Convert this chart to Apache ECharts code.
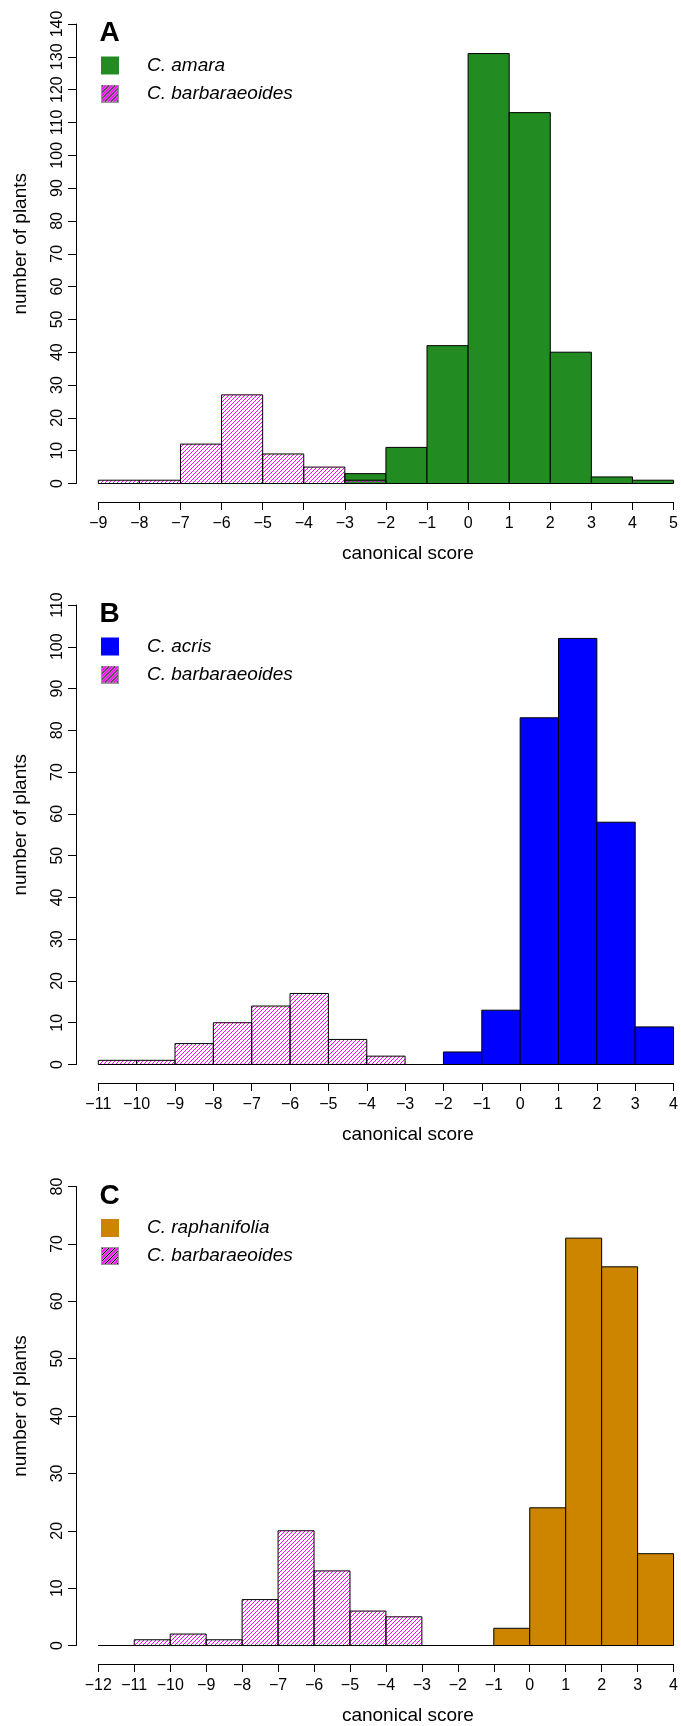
<!DOCTYPE html>
<html>
<head>
<meta charset="utf-8">
<title>canonical score histograms</title>
<script src="https://cdn.jsdelivr.net/npm/echarts@6/dist/echarts.min.js"></script>
<style>
  html, body { margin: 0; padding: 0; background: #fff; }
  #chart { width: 681px; height: 1726px; }
</style>
</head>
<body>
<div id="chart"></div>
<script>
// bin lower edges (bins are 1 wide) and counts

// panel A
var amaraEdges = [-3, -2, -1, 0, 1, 2, 3, 4];
var amaraCounts = [3, 11, 42, 131, 113, 40, 2, 1];
var barbAEdges = [-9, -8, -7, -6, -5, -4, -3];
var barbACounts = [1, 1, 12, 27, 9, 5, 1];

// panel B
var acrisEdges = [-2, -1, 0, 1, 2, 3];
var acrisCounts = [3, 13, 83, 102, 58, 9];
var barbBEdges = [-11, -10, -9, -8, -7, -6, -5, -4, -3];
var barbBCounts = [1, 1, 5, 10, 14, 17, 6, 2, 0];

// panel C
var raphEdges = [-1, 0, 1, 2, 3];
var raphCounts = [3, 24, 71, 66, 16];
var barbCEdges = [-12, -11, -10, -9, -8, -7, -6, -5, -4, -3, -2];
var barbCCounts = [0, 1, 2, 1, 8, 20, 13, 6, 5, 0, 0];

// axes
var xRanges = [[-9, 5], [-11, 4], [-12, 4]];
var yMax = [140, 110, 80];
var panelLetters = ['A', 'B', 'C'];
var speciesNames = ['C. amara', 'C. acris', 'C. raphanifolia'];
var speciesColors = ['#228B22', '#0000FF', '#CD8500'];
var barbName = 'C. barbaraeoides';
var hatchColor = '#FF00FF';

var FONT = 'Liberation Sans';
var panelTops = [24, 605, 1186.5];
var panelHeight = 459.5;
var HATCH_STEP = 4;

// little hatched swatch for the legend
function legendSwatch() {
	var c = document.createElement('canvas');
	c.width = 18;
	c.height = 18;
	var g = c.getContext('2d');
	g.fillStyle = '#fff';
	g.fillRect(0, 0, 18, 18);
	for (var k = -18; k < 36; k += 6) {
		g.strokeStyle = hatchColor;
		g.lineWidth = 2;
		g.beginPath(); g.moveTo(k, 18); g.lineTo(k + 18, 0); g.stroke();
		g.strokeStyle = '#000';
		g.lineWidth = 1.2;
		g.beginPath(); g.moveTo(k + 3, 18); g.lineTo(k + 21, 0); g.stroke();
	}
	g.strokeStyle = '#999';
	g.lineWidth = 1;
	g.strokeRect(0.5, 0.5, 17, 17);
	return 'image://' + c.toDataURL();
}

function bins(edges, counts) {
	return edges.map(function (e, i) {
		return [e, e + 1, counts[i]];
	});
}

function binRect(api) {
	var tl = api.coord([api.value(0), api.value(2)]);
	var br = api.coord([api.value(1), 0]);
	return { x: tl[0], y: tl[1], width: br[0] - tl[0], height: br[1] - tl[1] };
}

// filled bar with black border
function renderSolid(params, api) {
	return {
		type: 'rect',
		shape: binRect(api),
		style: { fill: api.visual('color'), stroke: '#000', lineWidth: 1 }
	};
}

// open bar with 45 degree hatch lines, then the border on top
function renderHatched(params, api) {
	var r = binRect(api);
	var x0 = r.x, y0 = r.y, x1 = r.x + r.width, y1 = r.y + r.height;
	var d = '';
	var c = Math.ceil((x0 + y0) / HATCH_STEP) * HATCH_STEP;
	for (; c <= x1 + y1; c += HATCH_STEP) {
		var xa = Math.max(x0, c - y1);
		var xb = Math.min(x1, c - y0);
		if (xb > xa) {
			d += 'M' + xa + ' ' + (c - xa) + 'L' + xb + ' ' + (c - xb);
		}
	}
	var children = [];
	if (d) {
		children.push({ type: 'path', shape: { pathData: d }, style: { fill: 'none', stroke: hatchColor, lineWidth: 1 } });
	}
	children.push({ type: 'rect', shape: r, style: { fill: 'none', stroke: '#000', lineWidth: 1 } });
	return { type: 'group', children: children };
}

function minus(v) {
	return String(v).replace('-', '\u2212');
}

var speciesData = [bins(amaraEdges, amaraCounts), bins(acrisEdges, acrisCounts), bins(raphEdges, raphCounts)];
var barbData = [bins(barbAEdges, barbACounts), bins(barbBEdges, barbBCounts), bins(barbCEdges, barbCCounts)];
var swatch = legendSwatch();

var grids = [], xAxes = [], yAxes = [], seriesList = [], legends = [], letters = [];

for (var p = 0; p < 3; p++) {
	var panelTop = panelTops[p];

	grids.push({ left: 98.3, width: 575.7, top: panelTop, height: panelHeight });

	xAxes.push({
		type: 'value', gridIndex: p,
		min: xRanges[p][0], max: xRanges[p][1], interval: 1,
		offset: 18.5,
		axisLine: { show: true, onZero: false, lineStyle: { color: '#000', width: 1 } },
		axisTick: { show: true, length: 8, lineStyle: { color: '#000' } },
		axisLabel: { margin: 13.5, fontSize: 16, color: '#000', fontFamily: FONT, formatter: minus },
		splitLine: { show: false },
		name: 'canonical score', nameLocation: 'middle', nameGap: 42,
		nameTextStyle: { fontSize: 19, color: '#000', fontFamily: FONT, padding: [0, 0, 0, 44] }
	});

	yAxes.push({
		type: 'value', gridIndex: p,
		min: 0, max: yMax[p], interval: 10,
		offset: 22.3,
		axisLine: { show: true, onZero: false, lineStyle: { color: '#000', width: 1 } },
		axisTick: { show: true, length: 8, lineStyle: { color: '#000' } },
		axisLabel: { rotate: 90, margin: 10.5, fontSize: 16, color: '#000', fontFamily: FONT },
		splitLine: { show: false },
		name: 'number of plants', nameLocation: 'middle', nameGap: 46,
		nameTextStyle: { fontSize: 19, color: '#000', fontFamily: FONT, padding: [0, 0, 0, 20] }
	});

	// species first, the hatched barbaraeoides bars go over it
	seriesList.push({
		type: 'custom', name: speciesNames[p], xAxisIndex: p, yAxisIndex: p,
		itemStyle: { color: speciesColors[p] },
		encode: { x: [0, 1], y: 2 },
		renderItem: renderSolid, silent: true,
		data: speciesData[p]
	});
	seriesList.push({
		type: 'custom', name: barbName, xAxisIndex: p, yAxisIndex: p,
		itemStyle: { color: hatchColor },
		encode: { x: [0, 1], y: 2 },
		renderItem: renderHatched, silent: true,
		data: barbData[p]
	});

	legends.push({
		orient: 'vertical', left: 101, top: panelTop + 32, padding: 0,
		itemWidth: 18, itemHeight: 18, itemGap: 9, selectedMode: false,
		textStyle: { fontFamily: FONT, fontSize: 19, fontStyle: 'italic', color: '#000', lineHeight: 18, padding: [0, 0, 0, 23] },
		itemStyle: { borderWidth: 0 },
		data: [
			{ name: speciesNames[p], icon: 'rect' },
			{ name: barbName, icon: swatch }
		]
	});

	letters.push({
		type: 'text', x: 99.5, y: panelTop + 9.5,
		style: {
			text: panelLetters[p], fill: '#000',
			font: 'bold 28px ' + FONT, textAlign: 'left', textVerticalAlign: 'middle'
		}
	});
}

var chart = echarts.init(document.getElementById('chart'));
chart.setOption({
	animation: false,
	backgroundColor: '#fff',
	textStyle: { fontFamily: FONT },
	grid: grids,
	xAxis: xAxes,
	yAxis: yAxes,
	legend: legends,
	graphic: letters,
	series: seriesList
});
</script>
</body>
</html>
